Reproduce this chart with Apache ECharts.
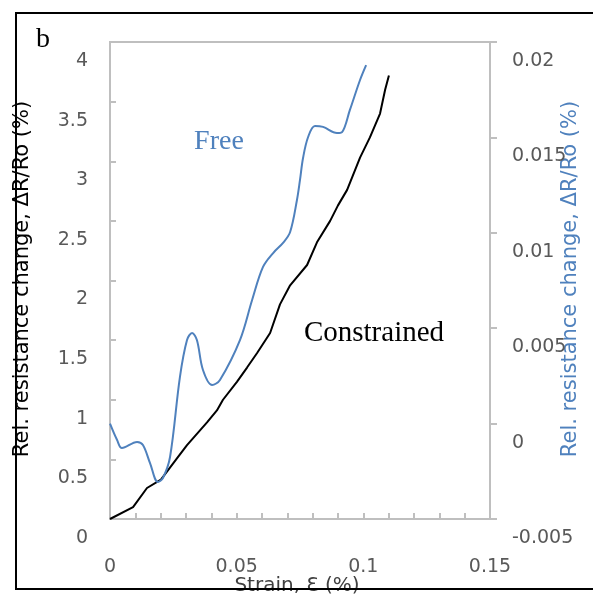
<!DOCTYPE html>
<html>
<head>
<meta charset="utf-8">
<script src="https://cdn.jsdelivr.net/npm/echarts@6/dist/echarts.min.js"></script>
<style>html,body{margin:0;padding:0;background:#fff;}#c{width:593px;height:595px;}</style>
</head>
<body>
<div id="c"></div>
<script>
// Constrained (left axis, %)
var strainConstrained = [0,0.0091,0.0146,0.0201,0.0265,0.0304,0.0383,0.0422,0.0446,0.0501,0.0541,0.0580,0.0632,0.0671,0.0711,0.0778,0.0817,0.0869,0.0900,0.0936,0.0987,0.1026,0.1066,0.1086,0.1101];
var resConstrained = [0,0.10,0.26,0.33,0.51,0.62,0.81,0.91,1.00,1.15,1.27,1.39,1.56,1.80,1.96,2.13,2.32,2.50,2.63,2.76,3.03,3.20,3.40,3.60,3.72];
// Free (right axis, %)
var strainFree = [0,0.0028,0.0047,0.0107,0.0130,0.0158,0.0189,0.0209,0.0237,0.0276,0.0304,0.0324,0.0343,0.0367,0.0403,0.0434,0.0513,0.0561,0.0604,0.0644,0.0683,0.0711,0.0738,0.0750,0.0762,0.0782,0.0809,0.0841,0.0896,0.0916,0.0947,0.0987,0.1011];
var resFree = [0.0000,-0.00086,-0.00128,-0.00096,-0.00112,-0.00207,-0.00306,-0.00285,-0.00175,0.00244,0.00438,0.00475,0.00438,0.00281,0.00202,0.00229,0.00438,0.00648,0.00821,0.00894,0.00947,0.01004,0.01172,0.01277,0.01392,0.01502,0.01560,0.01555,0.01523,0.01528,0.01644,0.01801,0.01879];
var xTicks = {min:0, max:0.15, interval:0.05};
var leftTicks = {min:0, max:4, interval:0.5};
var rightTicks = {min:-0.005, max:0.02, interval:0.005};
var labels = {b:'b', free:'Free', constrained:'Constrained', yLeft:'Rel. resistance change, ΔR/Ro (%)', yRight:'Rel. resistance change, ΔR/Ro (%)', x:'Strain, Ɛ (%)'};

function zip(a,b){return a.map(function(v,i){return [v,b[i]];});}

var chart = echarts.init(document.getElementById('c'), null, {renderer:'canvas'});
var gray = '#bfbfbf';
var lblColor = '#595959';
var blue = '#4f81bd';
var sans = 'DejaVu Sans';
var serif = 'Liberation Serif';
chart.setOption({
  animation:false,
  backgroundColor:'#fff',
  grid:{left:110, top:42, right:103, bottom:76, show:true, borderColor:gray, borderWidth:2},
  xAxis:{type:'value', min:xTicks.min, max:xTicks.max, interval:xTicks.interval,
    axisLine:{show:true, lineStyle:{color:gray, width:2}},
    axisTick:{show:true, inside:true, length:6, lineStyle:{color:gray, width:2}},
    minorTick:{show:true, splitNumber:5, length:6, lineStyle:{color:gray, width:2}},
    splitLine:{show:false},
    axisLabel:{color:lblColor, fontFamily:sans, fontSize:19, margin:39}
  },
  yAxis:[
    {type:'value', min:leftTicks.min, max:leftTicks.max, interval:leftTicks.interval, position:'left',
      axisLine:{show:true, lineStyle:{color:gray, width:2}},
      axisTick:{show:true, inside:true, length:6, lineStyle:{color:gray, width:2}},
      splitLine:{show:false},
      axisLabel:{color:lblColor, fontFamily:sans, fontSize:19, margin:22, verticalAlign:'top', lineHeight:38}
    },
    {type:'value', min:rightTicks.min, max:rightTicks.max, interval:rightTicks.interval, position:'right',
      axisLine:{show:true, lineStyle:{color:gray, width:2}},
      axisTick:{show:true, inside:false, length:7, lineStyle:{color:gray, width:2}},
      splitLine:{show:false},
      axisLabel:{color:lblColor, fontFamily:sans, fontSize:19, margin:22, verticalAlign:'top', lineHeight:38,
        formatter:function(v){return String(+v.toFixed(3));}}
    }
  ],
  series:[
    {type:'line', yAxisIndex:0, data:zip(strainConstrained,resConstrained), showSymbol:false, smooth:false,
      lineStyle:{color:'#000', width:2}, itemStyle:{color:'#000'}},
    {type:'line', yAxisIndex:1, data:zip(strainFree,resFree), showSymbol:false, smooth:0.35,
      lineStyle:{color:blue, width:2}, itemStyle:{color:blue}}
  ],
  graphic:[
    {type:'text', left:36, top:26, style:{text:labels.b, font:'28px "'+serif+'"', fill:'#000'}},
    {type:'text', x:219, y:142, style:{text:labels.free, font:'28px "'+serif+'"', fill:blue, align:'center', verticalAlign:'middle'}},
    {type:'text', x:374, y:333, style:{text:labels.constrained, font:'29px "'+serif+'"', fill:'#000', align:'center', verticalAlign:'middle'}},
    {type:'text', x:23, y:279, rotation:Math.PI/2, style:{text:labels.yLeft, font:'21px "'+sans+'"', fill:'#000', align:'center', verticalAlign:'middle'}},
    {type:'text', x:571, y:279, rotation:Math.PI/2, style:{text:labels.yRight, font:'21px "'+sans+'"', fill:blue, align:'center', verticalAlign:'middle'}},
    {type:'text', x:297, y:586, style:{text:labels.x, font:'20px "'+sans+'"', fill:'#404040', align:'center', verticalAlign:'middle'}},
    {type:'rect', z:100, shape:{x:16, y:13, width:620, height:576}, style:{fill:'none', stroke:'#000', lineWidth:2}}
  ]
});
</script>
</body>
</html>
